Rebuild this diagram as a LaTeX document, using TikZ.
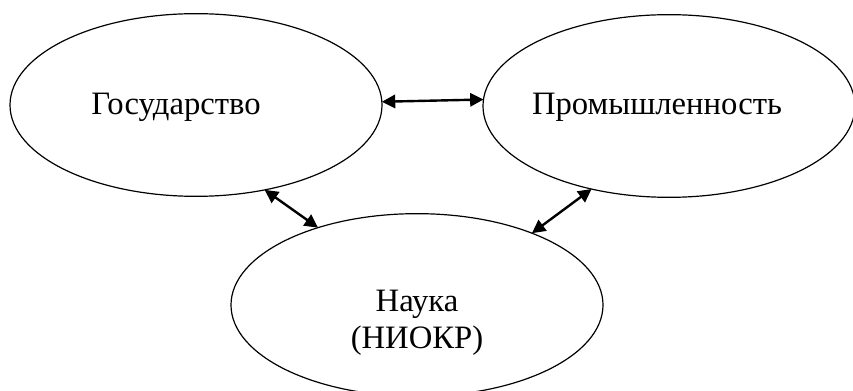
\documentclass[tikz,border=0pt]{standalone}
\usepackage{fontspec}
\setmainfont{Liberation Serif}
\usetikzlibrary{shapes.geometric,arrows.meta}

\tikzstyle{triad_style}=[x=0.75pt,y=-0.75pt,
  sphere/.style={ellipse,draw,line width=0.9pt,minimum width=279pt,minimum height=137pt,
    inner sep=0pt,outer sep=0pt},
  caption/.style={align=center,inner sep=0pt,font=\fontsize{24.5}{27.75}\selectfont},
  link/.style={{Triangle[length=10pt,width=10pt]}-{Triangle[length=10pt,width=10pt]},line width=1.8pt},]

\begin{document}
\begin{tikzpicture}[triad_style]

    \useasboundingbox (0,0) rectangle (853,391);

    % Draw the three spheres
    \node[sphere] (G) at (196,105) {};
    \node[sphere] (P) at (669,106) {};
    \node[sphere] (N) at (417,305) {};

    % Write their names
    \node[caption, anchor=base] (G-name) at (176,115) {Государство};
    \node[caption, anchor=base] (P-name) at (657,115) {Промышленность};
    \node[caption] (N-name) at (417,323) {Наука\\(НИОКР)};

    % Connect every sphere with the other two
    \foreach \source / \dest in {G.1.5/P.178, G.-51/N.142, P.-133/N.32}
        \draw[link] (\source) -- (\dest);

\end{tikzpicture}
\end{document}
